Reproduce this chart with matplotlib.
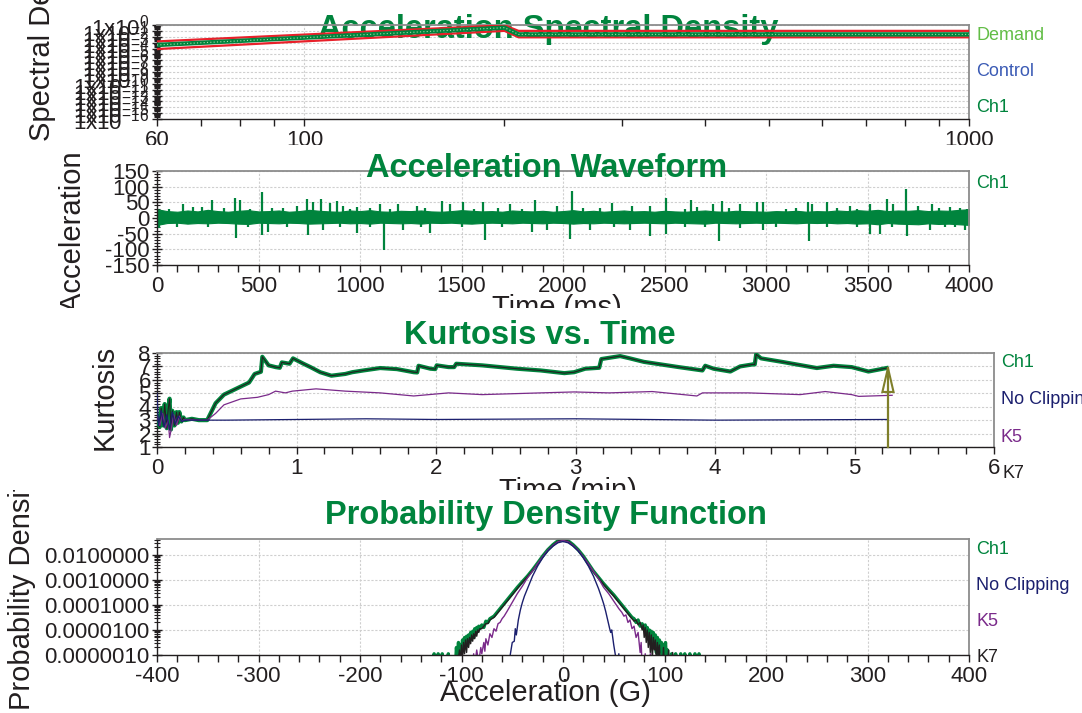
import matplotlib
matplotlib.use("Agg")
import matplotlib.pyplot as plt
import numpy as np
from matplotlib.ticker import (FixedLocator, MultipleLocator, LogLocator,
                               FuncFormatter, NullFormatter)
from matplotlib.transforms import Bbox, TransformedBbox

plt.rcParams['font.family'] = ['Liberation Sans', 'DejaVu Sans']
plt.rcParams['mathtext.default'] = 'regular'
plt.rcParams['axes.unicode_minus'] = False

# ---------------- data ----------------
# Acceleration spectral density (profile lines)
psd_freq = [60, 200, 210, 1000]
psd_demand = [4e-4, 0.35, 0.025, 0.025]
psd_upper = [1.6e-3, 0.9, 0.1, 0.1]
psd_lower = [8e-5, 0.1, 8e-3, 8e-3]

# Acceleration waveform: band envelope every 50 ms plus the visible spikes
band_hi = [28, 22, 20, 24, 21, 26, 22, 20, 23, 25,
           21, 22, 24, 20, 22, 26, 23, 21, 20, 24,
           22, 25, 21, 20, 23, 22, 24, 21, 20, 22,
           25, 23, 21, 22, 20, 24, 22, 21, 23, 20,
           22, 25, 21, 23, 20, 22, 24, 21, 22, 20,
           23, 21, 20, 22, 24, 21, 20, 23, 22, 21,
           20, 22, 21, 23, 20, 22, 21, 24, 22, 25,
           23, 26, 22, 24, 23, 25, 22, 24, 23, 26,
           28]
band_lo = [-22, -16, -15, -18, -16, -17, -15, -16, -18, -19,
           -15, -16, -17, -15, -16, -18, -17, -16, -15, -17,
           -16, -18, -15, -16, -17, -16, -18, -15, -16, -15,
           -17, -18, -16, -15, -16, -17, -15, -16, -17, -15,
           -16, -18, -16, -17, -15, -16, -17, -16, -15, -16,
           -17, -15, -16, -17, -18, -15, -16, -17, -16, -15,
           -16, -15, -16, -17, -15, -16, -15, -17, -16, -18,
           -17, -20, -16, -18, -19, -20, -17, -19, -18, -20,
           -22]
spikes_up = [(60, 30), (130, 44), (179, 36), (220, 36), (269, 56), (330, 32),
             (384, 64), (409, 58), (460, 30), (516, 82), (565, 33), (620, 31),
             (688, 39), (737, 60), (770, 52), (806, 61), (852, 47), (888, 53),
             (915, 39), (950, 30), (984, 36), (1050, 32), (1099, 44), (1150, 30),
             (1189, 44), (1280, 39), (1320, 31), (1402, 53), (1443, 44), (1509, 50),
             (1560, 30), (1608, 50), (1680, 32), (1739, 44), (1800, 30), (1862, 56),
             (1969, 39), (2043, 86), (2100, 31), (2180, 33), (2240, 47), (2339, 39),
             (2429, 39), (2507, 64), (2600, 30), (2633, 56), (2662, 36), (2740, 44),
             (2782, 53), (2820, 31), (2872, 44), (2954, 50), (2986, 50), (3100, 30),
             (3150, 32), (3209, 52), (3225, 44), (3299, 50), (3350, 31), (3414, 39),
             (3450, 30), (3513, 44), (3595, 61), (3627, 44), (3690, 91), (3751, 39),
             (3816, 44), (3850, 33), (3907, 36), (3956, 33), (3990, 30)]
spikes_down = [(10, -31), (100, -28), (250, -28), (389, -63), (450, -28), (516, -53),
               (549, -44), (640, -28), (745, -53), (819, -39), (900, -28), (987, -48),
               (1050, -28), (1120, -102), (1214, -39), (1300, -28), (1345, -48),
               (1500, -28), (1616, -69), (1700, -28), (1846, -44), (1920, -39),
               (2035, -67), (2133, -37), (2250, -28), (2330, -39), (2429, -56),
               (2507, -50), (2600, -28), (2700, -28), (2770, -72), (2872, -33),
               (2986, -39), (3050, -28), (3214, -72), (3300, -28), (3450, -28),
               (3513, -50), (3562, -50), (3620, -28), (3694, -56), (3809, -39),
               (3880, -28), (3930, -28), (3981, -39)]

# Kurtosis vs time (min, kurtosis)
ch1_kurtosis = [(0.00, 3.3), (0.02, 2.5), (0.03, 3.9), (0.045, 2.6), (0.055, 4.2),
                (0.07, 2.4), (0.08, 3.8), (0.09, 4.6), (0.10, 2.3), (0.11, 3.7),
                (0.125, 2.6), (0.14, 3.6), (0.15, 2.8), (0.16, 3.6), (0.175, 2.9),
                (0.19, 3.2), (0.20, 3.0), (0.25, 3.1), (0.30, 3.0), (0.36, 3.0),
                (0.42, 4.26), (0.48, 4.9), (0.54, 5.2), (0.60, 5.5), (0.66, 5.8),
                (0.70, 6.44), (0.745, 6.6), (0.755, 7.72), (0.80, 7.08), (0.85, 6.95),
                (0.88, 6.9), (0.895, 7.3), (0.95, 7.2), (0.975, 7.6), (1.05, 7.2),
                (1.10, 6.95), (1.17, 6.57), (1.25, 6.31), (1.35, 6.44), (1.40, 6.57),
                (1.48, 6.7), (1.60, 6.88), (1.72, 6.8), (1.84, 6.57), (1.865, 6.55),
                (1.875, 7.05), (1.96, 6.83), (1.995, 6.8), (2.005, 7.08), (2.09, 6.95),
                (2.13, 6.95), (2.145, 7.2), (2.33, 7.08), (2.46, 6.95), (2.58, 6.83),
                (2.75, 6.7), (2.92, 6.5), (2.99, 6.57), (3.07, 6.83), (3.17, 6.9),
                (3.185, 7.55), (3.32, 7.77), (3.39, 7.6), (3.49, 7.34), (3.74, 6.95),
                (3.91, 6.7), (3.93, 7.05), (3.99, 6.83), (4.11, 6.62), (4.18, 7.0),
                (4.27, 7.15), (4.285, 7.15), (4.295, 7.9), (4.33, 7.6), (4.48, 7.34),
                (4.73, 6.88), (4.85, 7.05), (4.98, 6.95), (5.10, 6.62), (5.23, 6.88)]
k7_kurtosis = ch1_kurtosis  # K7 sits right on top of Ch1
k5_kurtosis = [(0.00, 3.3), (0.02, 2.6), (0.04, 3.5), (0.06, 2.4), (0.08, 3.0),
               (0.09, 1.7), (0.10, 2.2), (0.12, 3.4), (0.14, 2.6), (0.16, 3.3),
               (0.18, 2.9), (0.20, 3.05), (0.30, 3.0), (0.36, 3.0), (0.42, 3.5),
               (0.48, 4.14), (0.60, 4.58), (0.72, 4.7), (0.80, 4.9), (0.85, 5.16),
               (0.92, 5.03), (0.97, 5.16), (1.14, 5.33), (1.35, 5.16), (1.60, 5.03),
               (1.84, 4.8), (2.09, 5.03), (2.33, 4.9), (2.75, 5.03), (2.99, 5.1),
               (3.24, 5.03), (3.55, 5.13), (3.87, 4.8), (3.91, 5.03), (4.24, 5.03),
               (4.61, 4.9), (4.79, 5.13), (4.98, 4.9), (5.03, 4.77), (5.27, 4.85)]
noclip_kurtosis = [(0.00, 5.0), (0.01, 2.6), (0.03, 3.7), (0.05, 2.5), (0.07, 3.4),
                   (0.09, 2.3), (0.11, 3.6), (0.13, 2.7), (0.15, 3.3), (0.18, 2.9),
                   (0.20, 3.0), (0.50, 3.0), (1.00, 3.05), (1.50, 3.1), (2.00, 3.05),
                   (3.00, 3.1), (4.00, 3.0), (5.23, 3.05)]
arrow_t, arrow_base, arrow_head, arrow_top = 5.24, 1.0, 5.1, 6.88

# Probability density (G, log10 density)
ch1_pdf = [(-128, -6.5), (-127, -5.95), (-126, -6.5), (-124, -6.5), (-123, -5.95), (-122, -6.5),
           (-120, -6.5), (-119, -5.95), (-118, -6.5), (-114, -6.5), (-113, -5.95), (-112, -6.5),
           (-106, -6.5), (-105, -5.7), (-104, -6.2), (-103, -5.5), (-102, -6.1), (-101, -5.6),
           (-100, -5.9), (-99, -5.4), (-98, -5.8), (-97, -5.3), (-96, -5.7), (-95, -5.25),
           (-94, -5.6), (-93, -5.2), (-92, -5.45), (-91, -5.1), (-90, -5.35), (-89, -5.05),
           (-88, -5.3), (-87, -4.95), (-86, -5.15), (-85, -4.9), (-84, -5.05), (-83, -4.85),
           (-82, -4.95), (-80, -4.8), (-78, -4.9), (-76, -4.65), (-74, -4.7), (-72, -4.55),
           (-70, -4.5), (-68, -4.45), (-65, -4.3), (-60, -4.05), (-55, -3.8), (-50, -3.55),
           (-45, -3.3), (-40, -3.07), (-35, -2.85), (-30, -2.6), (-25, -2.33), (-20, -2.05),
           (-15, -1.8), (-10, -1.6), (-5, -1.44), (0, -1.37), (5, -1.44), (10, -1.6),
           (15, -1.8), (20, -2.05), (25, -2.35), (30, -2.65), (35, -2.9), (40, -3.15),
           (45, -3.38), (50, -3.6), (55, -3.85), (60, -4.1), (65, -4.35), (68, -4.5),
           (70, -4.55), (72, -4.7), (74, -4.6), (76, -4.85), (78, -4.75), (80, -5.0),
           (81, -4.8), (82, -5.2), (83, -4.9), (84, -5.35), (85, -5.0), (86, -5.4),
           (87, -5.05), (88, -5.6), (89, -5.1), (90, -5.7), (91, -5.2), (92, -5.9),
           (93, -5.3), (94, -6.1), (95, -5.4), (96, -5.8), (97, -5.5), (98, -6.2),
           (99, -5.6), (100, -5.9), (101, -5.5), (102, -6.3), (103, -5.8), (104, -6.5),
           (106, -6.5), (107, -5.95), (108, -6.5), (110, -6.5), (111, -5.95), (112, -6.5),
           (115, -6.5), (116, -5.95), (117, -6.5), (119, -6.5), (120, -5.95), (121, -6.5),
           (124, -6.5), (125, -5.95), (126, -6.5), (129, -6.5), (130, -5.95), (131, -6.5),
           (133, -6.5), (134, -5.95), (135, -6.5)]
k7_pdf = [(-104, -6.5), (-102, -5.8), (-101, -6.3), (-100, -5.6), (-99, -6.2), (-98, -5.5),
          (-97, -5.95), (-96, -5.4), (-95, -5.9), (-94, -5.35), (-93, -5.7), (-92, -5.3),
          (-91, -5.55), (-90, -5.2), (-89, -5.45), (-88, -5.15), (-87, -5.35), (-86, -5.05),
          (-85, -5.25), (-84, -5.0), (-83, -5.1), (-82, -4.95), (-80, -4.95), (-78, -4.85),
          (-76, -4.75), (-74, -4.75), (-72, -4.6), (-70, -4.55), (-68, -4.5), (-65, -4.35),
          (-60, -4.1), (-55, -3.85), (-50, -3.6), (-45, -3.35), (-40, -3.1), (-35, -2.88),
          (-30, -2.63), (-25, -2.36), (-20, -2.08), (-15, -1.83), (-10, -1.62), (-5, -1.46),
          (0, -1.39), (5, -1.46), (10, -1.62), (15, -1.83), (20, -2.08), (25, -2.38),
          (30, -2.68), (35, -2.93), (40, -3.18), (45, -3.42), (50, -3.65), (55, -3.9),
          (60, -4.15), (65, -4.4), (68, -4.55), (70, -4.65), (72, -4.6), (74, -4.8),
          (76, -4.7), (78, -5.0), (79, -4.8), (80, -5.3), (81, -4.9), (82, -5.5),
          (83, -5.0), (84, -5.7), (85, -5.1), (86, -5.9), (87, -5.2), (88, -6.2),
          (89, -5.3), (90, -5.8), (91, -5.4), (92, -6.3), (93, -5.5), (94, -6.0),
          (95, -5.6), (96, -6.5), (98, -6.5), (99, -5.7), (100, -6.5), (103, -6.5),
          (104, -5.8), (105, -6.5), (107, -6.5), (108, -5.9), (109, -6.5)]
k5_pdf = [(-90, -6.5), (-88, -5.95), (-87, -6.4), (-85, -5.8), (-83, -6.3), (-81, -5.7),
          (-80, -5.95), (-78, -5.5), (-77, -5.85), (-76, -5.35), (-74, -5.6), (-72, -5.15),
          (-70, -5.3), (-68, -4.95), (-66, -5.05), (-64, -4.75), (-62, -4.7), (-60, -4.55),
          (-58, -4.45), (-55, -4.25), (-50, -3.9), (-45, -3.55), (-40, -3.25), (-35, -2.92),
          (-30, -2.65), (-25, -2.35), (-20, -2.08), (-15, -1.82), (-10, -1.63), (-5, -1.48),
          (0, -1.43), (5, -1.48), (10, -1.63), (15, -1.82), (20, -2.08), (25, -2.36),
          (30, -2.66), (35, -2.95), (40, -3.3), (45, -3.55), (50, -3.85), (55, -4.15),
          (58, -4.3), (60, -4.45), (62, -4.4), (64, -4.7), (66, -4.6), (68, -4.95),
          (70, -4.85), (72, -5.3), (74, -5.1), (76, -5.9), (77, -5.5), (78, -6.5),
          (80, -6.5), (81, -5.95), (82, -6.5), (85, -6.5), (86, -5.95), (87, -6.5)]
noclip_pdf = [(-55, -6.5), (-52, -6.0), (-50, -5.5), (-48, -5.45), (-47, -4.95), (-46, -5.2),
              (-44, -4.6), (-42, -4.2), (-40, -3.9), (-38, -3.65), (-35, -3.35), (-30, -2.85),
              (-25, -2.45), (-20, -2.12), (-15, -1.85), (-10, -1.66), (-5, -1.52), (0, -1.47),
              (5, -1.52), (10, -1.66), (15, -1.85), (20, -2.12), (25, -2.45), (30, -2.85),
              (35, -3.35), (38, -3.7), (40, -3.95), (42, -4.25), (44, -4.6), (46, -4.95),
              (47, -5.1), (48, -5.0), (50, -5.6), (52, -6.1), (54, -6.5), (55, -5.95),
              (56, -6.5)]

# ---------------- style ----------------
W, H = 1082, 713
GREEN = '#00843d'
LIGHT_GREEN = '#62bd46'
BLUE = '#3b5bb5'
NAVY = '#1b1f6e'
PURPLE = '#7a2a8a'
DARK = '#231f20'
RED = '#e8202a'
OLIVE = '#7f7f2a'
GRID = '#cfcfcf'

fig = plt.figure(figsize=(W / 100, H / 100), dpi=100)


def place(l, t, r, b):
    return fig.add_axes([l / W, 1 - b / H, (r - l) / W, (b - t) / H])


def band(top, bottom):
    return TransformedBbox(Bbox.from_extents(0, 1 - bottom / H, 1, 1 - top / H),
                           fig.transFigure)


def ftext(x, y, s, **kw):
    return fig.text(x / W, 1 - y / H, s, **kw)


def style(ax):
    for s in ('top', 'right'):
        ax.spines[s].set_color('#8c8c8c')
        ax.spines[s].set_linewidth(1.3)
    for s in ('bottom', 'left'):
        ax.spines[s].set_color(DARK)
        ax.spines[s].set_linewidth(1.0)
    ax.tick_params(axis='x', which='both', direction='out', length=5, width=1,
                   labelsize=16, pad=3, color=DARK, labelcolor=DARK)
    ax.tick_params(axis='y', which='major', direction='inout', length=7, width=1,
                   labelsize=16, pad=2, color=DARK, labelcolor=DARK)
    ax.tick_params(axis='y', which='minor', direction='inout', length=4, width=0.8,
                   color=DARK)
    ax.grid(True, which='major', color=GRID, linestyle=(0, (2, 1.5)), linewidth=0.8)
    ax.set_axisbelow(True)


def clip_panel(ax, top, bottom, extra=()):
    box = band(top, bottom)
    for t in ax.get_xticklabels() + ax.get_yticklabels() + list(extra):
        t.set_clip_box(box)
        t.set_clip_on(True)


# ---- panel 1: acceleration spectral density ----
ax1 = place(157, 25, 969, 119)
ax1.set_xscale('log')
ax1.set_yscale('log')
ax1.set_xlim(60, 1000)
ax1.set_ylim(1e-16, 1)
ax1.plot(psd_freq, psd_upper, color=RED, lw=1.6, zorder=4)
ax1.plot(psd_freq, psd_lower, color=RED, lw=1.6, zorder=4)
ax1.plot(psd_freq, psd_demand, color=GREEN, lw=3.2, zorder=5)
ax1.plot(psd_freq, psd_demand, color='#a9d8a9', lw=0.8, ls=(0, (1, 2)), zorder=6)
ax1.xaxis.set_major_locator(FixedLocator([60, 100, 1000]))
ax1.xaxis.set_minor_locator(FixedLocator([70, 80, 90, 200, 300, 400, 500, 600, 700, 800, 900]))
ax1.xaxis.set_major_formatter(FuncFormatter(lambda v, p: '%d' % v))
ax1.xaxis.set_minor_formatter(NullFormatter())
ax1.yaxis.set_major_locator(LogLocator(base=10, numticks=40))
ax1.yaxis.set_minor_locator(LogLocator(base=10, subs=np.arange(2, 10), numticks=40))
ax1.yaxis.set_major_formatter(FuncFormatter(lambda v, p: '1x10$^{%d}$' % round(np.log10(v))))
ax1.yaxis.set_minor_formatter(NullFormatter())
style(ax1)
ax1.grid(True, axis='x', which='minor', color='none')
ax1.text(548 / W, 1 - 38 / H, 'Acceleration Spectral Density', transform=fig.transFigure,
         ha='center', va='baseline', fontsize=23.5, fontweight='bold', color=GREEN, zorder=2)
ftext(976, 36, 'Demand', color=LIGHT_GREEN, fontsize=13, va='center')
ftext(976, 72, 'Control', color=BLUE, fontsize=13, va='center')
ftext(976, 108, 'Ch1', color=GREEN, fontsize=13, va='center')
yl1 = ftext(42, 141, 'Spectral Density (G²/Hz)', rotation=90, ha='center', va='bottom',
            fontsize=21, color=DARK)
clip_panel(ax1, 0, 145, [yl1])

# ---- panel 2: acceleration waveform ----
ax2 = place(157, 171, 969, 265)
band_t = np.arange(0, 4001, 50)
ax2.fill_between(band_t, band_lo, band_hi, color=GREEN, lw=0.8)
up_t, up_v = zip(*spikes_up)
dn_t, dn_v = zip(*spikes_down)
ax2.vlines(up_t, 0, up_v, color=GREEN, lw=1.6)
ax2.vlines(dn_t, 0, dn_v, color=GREEN, lw=1.6)
ax2.set_xlim(0, 4000)
ax2.set_ylim(-150, 150)
ax2.xaxis.set_major_locator(MultipleLocator(500))
ax2.xaxis.set_minor_locator(MultipleLocator(100))
ax2.yaxis.set_major_locator(MultipleLocator(50))
ax2.yaxis.set_minor_locator(MultipleLocator(10))
style(ax2)
ftext(547, 177, 'Acceleration Waveform', ha='center', va='baseline', fontsize=23.5,
      fontweight='bold', color=GREEN)
ftext(976, 183, 'Ch1', color=GREEN, fontsize=13, va='center')
yl2 = ftext(73, 312, 'Acceleration (G)', rotation=90, ha='center', va='bottom',
            fontsize=21, color=DARK)
xl2 = ftext(557, 294, 'Time (ms)', ha='center', va='top', fontsize=21, color=DARK)
clip_panel(ax2, 145, 308, [yl2, xl2])

# ---- panel 3: kurtosis vs time ----
ax3 = place(157, 353, 994, 447)
t, k = zip(*ch1_kurtosis)
ax3.plot(t, k, color=GREEN, lw=3, zorder=3)
t, k = zip(*k7_kurtosis)
ax3.plot(t, k, color=DARK, lw=0.8, zorder=4)
t, k = zip(*k5_kurtosis)
ax3.plot(t, k, color=PURPLE, lw=0.9, zorder=4)
t, k = zip(*noclip_kurtosis)
ax3.plot(t, k, color=NAVY, lw=0.9, zorder=4)
ax3.fill([arrow_t - 0.04, arrow_t + 0.04, arrow_t], [arrow_head, arrow_head, arrow_top],
         facecolor='white', edgecolor=OLIVE, lw=1.5, zorder=5)
ax3.plot([arrow_t, arrow_t], [arrow_base, arrow_top], color=OLIVE, lw=1.6, zorder=6,
         clip_on=False)
ax3.set_xlim(0, 6)
ax3.set_ylim(1, 8)
ax3.xaxis.set_major_locator(MultipleLocator(1))
ax3.xaxis.set_minor_locator(MultipleLocator(0.2))
ax3.yaxis.set_major_locator(MultipleLocator(1))
ax3.yaxis.set_minor_locator(MultipleLocator(0.2))
style(ax3)
ax3.tick_params(axis='y', which='major', pad=1)
ftext(540, 344, 'Kurtosis vs. Time', ha='center', va='baseline', fontsize=23.5,
      fontweight='bold', color=GREEN)
ftext(1001, 363, 'Ch1', color=GREEN, fontsize=13, va='center')
ftext(1001, 400, 'No Clipping', color=NAVY, fontsize=13, va='center')
ftext(1001, 437, 'K5', color=PURPLE, fontsize=13, va='center')
ftext(1003, 473, 'K7', color=DARK, fontsize=13, va='center')
ftext(105, 397, 'Kurtosis', rotation=90, ha='center', va='center', fontsize=21, color=DARK)
xl3 = ftext(568, 477, 'Time (min)', ha='center', va='top', fontsize=21, color=DARK)
clip_panel(ax3, 308, 490, [xl3])

# ---- panel 4: probability density function ----
ax4 = place(157, 539, 969, 655)
for pts, col, lw in ((ch1_pdf, GREEN, 2.4), (k7_pdf, DARK, 1.0),
                     (k5_pdf, PURPLE, 1.0), (noclip_pdf, NAVY, 1.0)):
    g, lv = zip(*pts)
    ax4.plot(g, 10 ** np.array(lv), color=col, lw=lw)
ax4.set_yscale('log')
ax4.set_xlim(-400, 400)
ax4.set_ylim(1e-6, 10 ** -1.37)
ax4.xaxis.set_major_locator(MultipleLocator(100))
ax4.xaxis.set_minor_locator(MultipleLocator(20))
ax4.yaxis.set_major_locator(LogLocator(base=10, numticks=12))
ax4.yaxis.set_minor_locator(LogLocator(base=10, subs=np.arange(2, 10), numticks=12))
ax4.yaxis.set_major_formatter(FuncFormatter(lambda v, p: '%.7f' % v))
ax4.yaxis.set_minor_formatter(NullFormatter())
style(ax4)
ftext(546, 524, 'Probability Density Function', ha='center', va='baseline', fontsize=23.5,
      fontweight='bold', color=GREEN)
ftext(976, 550, 'Ch1', color=GREEN, fontsize=13, va='center')
ftext(976, 586, 'No Clipping', color=NAVY, fontsize=13, va='center')
ftext(976, 622, 'K5', color=PURPLE, fontsize=13, va='center')
ftext(976, 658, 'K7', color=DARK, fontsize=13, va='center')
yl4 = ftext(22, 710, 'Probability Density', rotation=90, ha='center', va='bottom',
            fontsize=21, color=DARK)
ftext(545, 679, 'Acceleration (G)', ha='center', va='top', fontsize=21, color=DARK)
clip_panel(ax4, 490, 713, [yl4])

fig.savefig('out.png', dpi=100)
